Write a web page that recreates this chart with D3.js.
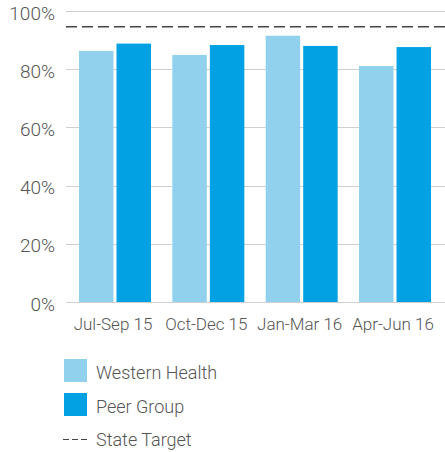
<!DOCTYPE html>
<html>
<head>
<meta charset="utf-8">
<script src="https://cdn.jsdelivr.net/npm/d3@7"></script>
<style>
  html, body { margin: 0; padding: 0; background: #fff; }
  svg { display: block; font-family: Roboto, "Noto Sans", sans-serif; }
</style>
</head>
<body>
<svg id="chart" width="445" height="452"></svg>
<script>
const categories = ["Jul-Sep 15", "Oct-Dec 15", "Jan-Mar 16", "Apr-Jun 16"];
const seriesNames = ["Western Health", "Peer Group"];
const westernHealth = [86.3, 84.9, 91.5, 81.1];
const peerGroup = [88.8, 88.3, 88.0, 87.6];
const stateTarget = 94.6;
const yTicks = [0, 20, 40, 60, 80, 100];
const colors = ["#92d1ed", "#02a1e3"];

const svg = d3.select("#chart");
const textColor = "#555";

const y = d3.scaleLinear().domain([0, 100]).range([302, 11]);
const x0 = d3.scaleBand().domain(categories).range([66, 444]).paddingInner(0.2286).paddingOuter(0.139);
const x1 = d3.scaleBand().domain(seriesNames).range([0, x0.bandwidth()]).paddingInner(0.081);

// gridlines
svg.append("g").selectAll("line").data(yTicks).join("line")
  .attr("x1", 66).attr("x2", 445)
  .attr("y1", d => Math.round(y(d)) + 0.5).attr("y2", d => Math.round(y(d)) + 0.5)
  .attr("stroke", "#cfcfcf").attr("stroke-width", 1);

// y axis labels
svg.append("g").selectAll("text").data(yTicks).join("text")
  .attr("x", 55).attr("y", d => y(d) + 2)
  .attr("dy", "0.35em")
  .attr("text-anchor", "end")
  .attr("font-size", 19).attr("font-weight", 300)
  .attr("fill", textColor)
  .text(d => d + "%");

// bars
const data = categories.map((c, i) => ({ cat: c, vals: [westernHealth[i], peerGroup[i]] }));
const groups = svg.append("g").selectAll("g").data(data).join("g")
  .attr("transform", d => `translate(${x0(d.cat)},0)`);
groups.selectAll("rect").data(d => d.vals.map((v, j) => ({ name: seriesNames[j], v, j })))
  .join("rect")
  .attr("x", d => x1(d.name))
  .attr("width", x1.bandwidth())
  .attr("y", d => y(d.v))
  .attr("height", d => y(0) - y(d.v))
  .attr("fill", d => colors[d.j]);

// state target
svg.append("line")
  .attr("x1", 66).attr("x2", 445)
  .attr("y1", y(stateTarget)).attr("y2", y(stateTarget))
  .attr("stroke", "#444").attr("stroke-width", 1.6)
  .attr("stroke-dasharray", "11,5");

// x labels
svg.append("g").selectAll("text").data(categories).join("text")
  .attr("x", d => x0(d) + x0.bandwidth() / 2 - 2)
  .attr("y", 330)
  .attr("text-anchor", "middle")
  .attr("font-size", 17).attr("font-weight", 300)
  .attr("fill", textColor)
  .text(d => d);

// legend
const legend = svg.append("g");
seriesNames.forEach((n, i) => {
  legend.append("rect").attr("x", 64).attr("y", 359 + i * 34)
    .attr("width", 23).attr("height", 23).attr("fill", colors[i]);
  legend.append("text").attr("x", 96).attr("y", 379 + i * 34)
    .attr("font-size", 18).attr("font-weight", 300).attr("fill", textColor).text(n);
});
legend.append("line").attr("x1", 63).attr("x2", 87).attr("y1", 439.5).attr("y2", 439.5)
  .attr("stroke", "#444").attr("stroke-width", 1.2).attr("stroke-dasharray", "6,3");
legend.append("text").attr("x", 96).attr("y", 446)
  .attr("font-size", 18).attr("font-weight", 300).attr("fill", textColor).text("State Target");
</script>
</body>
</html>
